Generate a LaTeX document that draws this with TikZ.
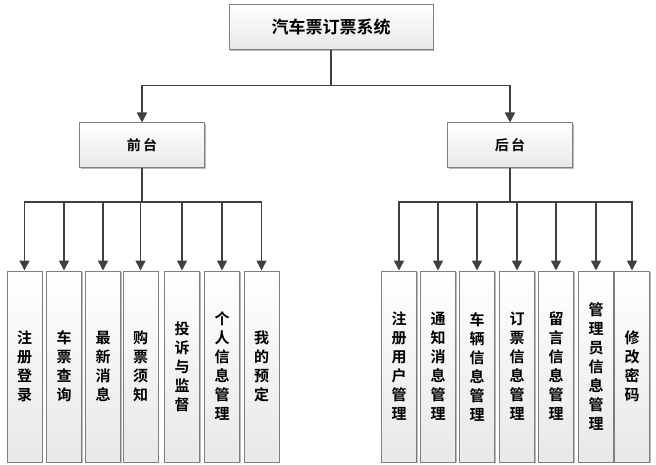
\documentclass[tikz,border=0pt]{standalone}
\usepackage{fontspec}
\newfontfamily\cjk{Noto Sans CJK SC}[BoldFont={Noto Sans CJK SC Bold}]
\usetikzlibrary{arrows.meta,shadows}
\definecolor{linegray}{HTML}{404040}
\definecolor{boxgray}{HTML}{7F7F7F}
\tikzset{
  box/.style={draw=boxgray, line width=1pt, top color=white, bottom color=black!9,
    drop shadow={shadow xshift=1pt, shadow yshift=-1pt, opacity=0.6, fill=black!45},
    inner sep=0pt, font=\cjk\bfseries},
  topbox/.style={box, minimum width=204pt, minimum height=45pt, font=\cjk\bfseries\fontsize{17}{19}\selectfont},
  midbox/.style={box, minimum width=125pt, minimum height=45pt, font=\cjk\bfseries\fontsize{14}{16}\selectfont},
  leafbox/.style={box, minimum width=35pt, minimum height=191pt, align=center,
    font=\cjk\bfseries\fontsize{15}{19}\selectfont},
  arr/.style={draw=linegray, line width=1.6pt, -{Triangle[width=10pt,length=10pt]}},
  ln/.style={draw=linegray, line width=1.6pt}
}
\begin{document}
\begin{tikzpicture}[x=1pt,y=-1pt]
    \useasboundingbox (0,0) rectangle (656,465);
    \node[topbox] (sys) at (331,27.5) {汽车票订票系统};
    \node[midbox] (front) at (142,145.5) {前\,台};
    \node[midbox] (back) at (510,145.5) {后\,台};
    % Front-end modules
    \node[leafbox] (f1) at (24.5,366.5) {注\\册\\登\\录};
    \node[leafbox] (f2) at (64,366.5) {车\\票\\查\\询};
    \node[leafbox] (f3) at (103,366.5) {最\\新\\消\\息};
    \node[leafbox] (f4) at (140.5,366.5) {购\\票\\须\\知};
    \node[leafbox] (f5) at (182,366.5) {投\\诉\\与\\监\\督};
    \node[leafbox] (f6) at (222,366.5) {个\\人\\信\\息\\管\\理};
    \node[leafbox] (f7) at (261.5,366.5) {我\\的\\预\\定};
    % Back-end modules
    \node[leafbox] (b1) at (399,366.5) {注\\册\\用\\户\\管\\理};
    \node[leafbox] (b2) at (438,366.5) {通\\知\\消\\息\\管\\理};
    \node[leafbox] (b3) at (477,366.5) {车\\辆\\信\\息\\管\\理};
    \node[leafbox] (b4) at (517,366.5) {订\\票\\信\\息\\管\\理};
    \node[leafbox] (b5) at (556,366.5) {留\\言\\信\\息\\管\\理};
    \node[leafbox] (b6) at (596,366.5) {管\\理\\员\\信\\息\\管\\理};
    \node[leafbox] (b7) at (632,366.5) {修\\改\\密\\码};
    % Top level arrows
    \draw[arr] (sys.south) -- ++(0,35) -| (front.north);
    \draw[arr] (sys.south) -- ++(0,35) -| (back.north);
    % Lower arrows
    \foreach \n in {f1,f2,f3,f4,f5,f6,f7}
        \draw[arr] (front.south) -- ++(0,33.5) -| (\n.north);
    \foreach \n in {b1,b2,b3,b4,b5,b6,b7}
        \draw[arr] (back.south) -- ++(0,33.5) -| (\n.north);
\end{tikzpicture}
\end{document}
